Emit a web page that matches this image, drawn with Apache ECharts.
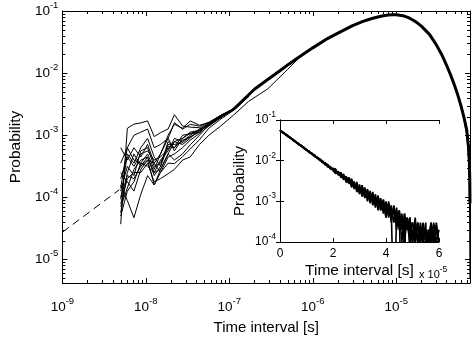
<!DOCTYPE html>
<html><head><meta charset="utf-8">
<script src="https://cdn.jsdelivr.net/npm/echarts@6/dist/echarts.min.js"></script>
<style>html,body{margin:0;padding:0;background:#fff}#c{width:474px;height:340px}</style>
</head><body><div id="c"></div>
<script>
const FONT = '"Liberation Sans", Arial, Helvetica, sans-serif';

// ---- main axes ranges and ticks ----
const mainXMin = 1e-9, mainXMax = 7.65e-5;
const mainYMin = 4.18e-6, mainYMax = 1e-1;
const xMinorTicks = [2e-9,3e-9,4e-9,5e-9,6e-9,7e-9,8e-9,9e-9,
  2e-8,3e-8,4e-8,5e-8,6e-8,7e-8,8e-8,9e-8,
  2e-7,3e-7,4e-7,5e-7,6e-7,7e-7,8e-7,9e-7,
  2e-6,3e-6,4e-6,5e-6,6e-6,7e-6,8e-6,9e-6,
  2e-5,3e-5,4e-5,5e-5,6e-5,7e-5];
const yMinorTicks = [5e-6,6e-6,7e-6,8e-6,9e-6,
  2e-5,3e-5,4e-5,5e-5,6e-5,7e-5,8e-5,9e-5,
  2e-4,3e-4,4e-4,5e-4,6e-4,7e-4,8e-4,9e-4,
  2e-3,3e-3,4e-3,5e-3,6e-3,7e-3,8e-3,9e-3,
  2e-2,3e-2,4e-2,5e-2,6e-2,7e-2,8e-2,9e-2];

// ---- main plot data ----
const dashT = [1e-9, 4.8e-9];
const dashP = [2.75e-5, 1.32e-4];

const headT = [5.0e-9, 6.0e-9, 7.2e-9, 8.7e-9, 1.05e-8, 1.26e-8, 1.5e-8, 1.85e-8, 2.2e-8, 2.75e-8, 3.4e-8, 4.4e-8, 5.7e-8, 7.9e-8, 1.12e-7, 1.7e-7];
const head1 = [3.7e-5, 1.29e-3, 1.51e-3, 1.58e-3, 1.70e-3, 9.5e-4, 1.10e-3, 1.26e-3, 2.14e-3, 1.41e-3, 1.35e-3, 1.32e-3, 1.58e-3, 2.09e-3, 2.63e-3, 4.27e-3];
const head2 = [9.3e-5, 5.0e-4, 3.55e-4, 6.3e-4, 8.9e-4, 4.47e-4, 3.16e-4, 7.9e-4, 6.3e-4, 1.0e-3, 1.05e-3, 1.12e-3, 1.58e-3, 1.91e-3, 2.69e-3, 4.17e-3];
const head3 = [2.5e-4, 1.78e-4, 1.26e-4, 2.82e-4, 3.98e-4, 1.58e-4, 2.82e-4, 5.0e-4, 7.9e-4, 7.1e-4, 8.9e-4, 1.26e-3, 1.41e-3, 2.0e-3, 2.51e-3, 4.37e-3];
const head4 = [6.3e-4, 3.98e-4, 6.3e-4, 4.47e-4, 7.1e-4, 3.55e-4, 5.0e-4, 8.9e-4, 5.6e-4, 8.9e-4, 1.12e-3, 1.2e-3, 1.58e-3, 2.09e-3, 2.63e-3, 4.27e-3];
const head5 = [1.58e-4, 8.9e-5, 4.7e-5, 1.12e-4, 2.24e-4, 1.58e-4, 2.51e-4, 3.55e-4, 3.5e-4, 4.5e-4, 6.0e-4, 8.5e-4, 1.3e-3, 1.82e-3, 2.51e-3, 4.17e-3];
const head6 = [5.6e-5, 2.51e-4, 5.0e-4, 3.16e-4, 4.47e-4, 2.51e-4, 3.98e-4, 5.6e-4, 8.9e-4, 7.9e-4, 1.0e-3, 1.26e-3, 1.48e-3, 1.95e-3, 2.69e-3, 4.27e-3];
const head7 = [1.26e-4, 3.16e-4, 2.24e-4, 5.6e-4, 6.3e-4, 3.16e-4, 3.55e-4, 7.1e-4, 7.1e-4, 7.6e-4, 9.5e-4, 1.12e-3, 1.51e-3, 2.0e-3, 2.57e-3, 4.27e-3];
const head8 = [7.9e-5, 2.0e-4, 2.51e-4, 2.51e-4, 3.55e-4, 1.78e-4, 2.0e-4, 2.4e-4, 2.82e-4, 3.98e-4, 4.47e-4, 7.1e-4, 1.0e-3, 1.41e-3, 2.1e-3, 3.5e-3];
const head9 = [2.0e-4, 4.47e-4, 3.16e-4, 5.0e-4, 5.6e-4, 3.98e-4, 4.47e-4, 6.0e-4, 7.9e-4, 8.9e-4, 1.07e-3, 1.2e-3, 1.55e-3, 2.04e-3, 2.63e-3, 4.27e-3];
const head10 = [7.1e-5, 1.41e-4, 2.82e-4, 3.98e-4, 4.47e-4, 2.24e-4, 3.16e-4, 6.6e-4, 6.3e-4, 8.3e-4, 9.3e-4, 1.17e-3, 1.45e-3, 2.0e-3, 2.63e-3, 4.27e-3];
const head11 = [3.55e-4, 6.3e-4, 3.98e-4, 3.55e-4, 5.0e-4, 2.82e-4, 5.0e-4, 1.0e-3, 1.5e-3, 1.3e-3, 1.7e-3, 1.45e-3, 1.6e-3, 2.0e-3, 2.69e-3, 4.37e-3];
const head12 = [5.0e-5, 1.26e-4, 1.78e-4, 3.55e-4, 3.16e-4, 2.51e-4, 2.82e-4, 5.0e-4, 4.0e-4, 5.0e-4, 7.0e-4, 1.0e-3, 1.48e-3, 1.95e-3, 2.57e-3, 4.27e-3];
const head13 = [1.41e-4, 6.3e-4, 1.0e-3, 1.12e-3, 1.26e-3, 6.3e-4, 7.1e-4, 8.9e-4, 1.6e-3, 1.25e-3, 1.5e-3, 1.4e-3, 1.62e-3, 2.09e-3, 2.69e-3, 4.27e-3];
const head14 = [1.0e-4, 2.24e-4, 2.0e-4, 3.16e-4, 3.98e-4, 3.55e-4, 2.51e-4, 4.47e-4, 5.0e-4, 6.3e-4, 8.3e-4, 1.07e-3, 1.41e-3, 1.91e-3, 2.57e-3, 4.17e-3];
const divergeT = [2.9e-7, 5e-7, 7e-7];
const divergeP = [5.6e-3, 1.15e-2, 1.8e-2];

const mainT = [1.12e-7, 1.5e-7, 2e-7, 3e-7, 4e-7, 5e-7, 7e-7, 1e-6, 1.5e-6, 2e-6, 3e-6, 4e-6, 5e-6, 6e-6, 7e-6, 8e-6, 9e-6, 1e-5, 1.2e-5, 1.4e-5, 1.6e-5, 1.8e-5, 2e-5, 2.5e-5, 3e-5, 3.5e-5, 4e-5, 4.5e-5, 5e-5, 5.5e-5, 6e-5, 6.5e-5, 7e-5, 7.3e-5, 7.5e-5, 7.6e-5, 7.65e-5];
const mainP = [2.6e-3, 3.8e-3, 5.5e-3, 8.2e-3, 1.08e-2, 1.35e-2, 1.85e-2, 2.55e-2, 3.6e-2, 4.4e-2, 5.8e-2, 6.8e-2, 7.5e-2, 8.0e-2, 8.4e-2, 8.6e-2, 8.7e-2, 8.7e-2, 8.4e-2, 7.8e-2, 7.1e-2, 6.4e-2, 5.7e-2, 4.2e-2, 2.9e-2, 2.0e-2, 1.35e-2, 9.2e-3, 6.3e-3, 4.3e-3, 2.9e-3, 1.9e-3, 1.2e-3, 7e-4, 4e-4, 2e-4, 8e-5];
const tailT = [6e-5, 6.5e-5, 7e-5, 7.3e-5, 7.5e-5, 7.6e-5, 7.65e-5];
const tailA = [2.8e-3, 1.8e-3, 1.0e-3, 5e-4, 2e-4, 4e-5, 5e-6];
const tailB = [3.0e-3, 2.0e-3, 1.3e-3, 8e-4, 5e-4, 3e-4, 1.5e-4];

// ---- inset data (time in units of 1e-5 s) ----
const insetXTicks = [0, 2, 4, 6];
const insetT = [0,0.1,0.2,0.3,0.4,0.5,0.6,0.7,0.8,0.9,1.0,1.1,1.2,1.3,1.4,1.5,1.6,1.7,1.8,1.9,2.0,
  2.1,2.2,2.3,2.4,2.5,2.6,2.7,2.8,2.9,3.0,3.1,3.2,3.3,3.4,3.5,3.6,3.7,3.8,3.9,4.0,
  4.1,4.2,4.3,4.4,4.5,4.6,4.7,4.8,4.9,5.0,5.1,5.2,5.3,5.4,5.5,5.6,5.7,5.8,5.9,6.0];
const insetA = [.0570,.0490,.0455,.0395,.0365,.0315,.0292,.0252,.0236,.0201,.0188,.0160,.0152,.0128,.0122,.0103,.0098,.0081,.0079,.0064,.0063,
  .0058,.0046,.0047,.0036,.0038,.0029,.0031,.0022,.0026,.0017,.0021,.0014,.0017,.0011,.0014,.0009,.0012,.0007,.0009,.0005,
  .0008,.0004,.0007,.0003,.0005,.000001,.0004,.0002,.0003,.0001,.0003,.0001,.0002,.0001,.0002,.0001,.0003,.0001,.0002,.0001];
const insetB = [.0555,.0508,.0440,.0410,.0352,.0328,.0282,.0263,.0225,.0212,.0180,.0170,.0144,.0137,.0115,.0110,.0091,.0088,.0072,.0070,.0058,
  .0052,.0051,.0041,.0042,.0033,.0034,.0025,.0027,.0020,.0023,.0016,.0018,.0012,.0015,.0010,.0012,.0008,.0010,.0006,.0008,
  .0005,.0006,.000001,.0005,.0003,.0004,.0002,.0003,.0001,.0003,.0002,.000001,.0002,.0001,.0001,.0002,.000001,.0002,.0001,.0001];
const insetC = [.0562,.0498,.0452,.0398,.0362,.0320,.0291,.0256,.0233,.0205,.0187,.0163,.0150,.0131,.0120,.0105,.0096,.0084,.0077,.0066,.0062,
  .0054,.0048,.0045,.0040,.0036,.0030,.0029,.0024,.0023,.0019,.0019,.0015,.0016,.0012,.0012,.0009,.0010,.0008,.0008,.0006,
  .0007,.0005,.0005,.0004,.0004,.0003,.0003,.0002,.0003,.000001,.0002,.0002,.0001,.0003,.0001,.0001,.0002,.0001,.0003,.0001];
const insetD = [.0548,.0504,.0446,.0405,.0357,.0325,.0286,.0261,.0228,.0209,.0183,.0168,.0147,.0135,.0117,.0108,.0093,.0086,.0074,.0069,.0060,
  .0056,.0050,.0043,.0041,.0034,.0033,.0027,.0026,.0021,.0021,.0017,.0017,.0013,.0014,.0011,.0011,.0009,.0009,.0007,.0007,
  .0006,.0005,.0006,.0003,.0004,.0004,.0002,.0004,.0001,.0002,.0001,.0003,.0001,.0002,.000001,.0002,.0001,.0003,.0001,.0002];
const insetE = [.0575,.0485,.0462,.0390,.0370,.0310,.0296,.0248,.0240,.0198,.0190,.0158,.0155,.0126,.0124,.0101,.0100,.0079,.0081,.0062,.0065,
  .0062,.0044,.0052,.0035,.0041,.0027,.0036,.0020,.0030,.0015,.0025,.0012,.0020,.0009,.0017,.0008,.0014,.0006,.0011,.0004,
  .0010,.0003,.0008,.0002,.0006,.0001,.0005,.000001,.0004,.0001,.0003,.0001,.0002,.0001,.0003,.000001,.0002,.0001,.0001,.0001];
const insetF = [.0545,.0512,.0438,.0414,.0350,.0331,.0280,.0266,.0222,.0215,.0178,.0173,.0142,.0140,.0113,.0112,.0089,.0090,.0070,.0072,.0057,
  .0048,.0055,.0038,.0047,.0029,.0039,.0022,.0031,.0017,.0026,.0013,.0022,.0010,.0018,.0008,.0015,.0006,.0012,.0005,.0010,
  .0004,.0008,.0003,.0007,.0002,.0005,.0001,.0004,.0002,.0003,.0001,.0003,.0001,.0002,.0002,.0001,.0003,.0001,.0002,.0001];
const insetG = [.0566,.0495,.0450,.0400,.0361,.0318,.0293,.0255,.0234,.0204,.0186,.0165,.0149,.0132,.0119,.0106,.0095,.0085,.0076,.0067,.0061,
  .0057,.0047,.0049,.0034,.0040,.0028,.0034,.0021,.0028,.0016,.0024,.0013,.0019,.0010,.0016,.0007,.0013,.0006,.0011,.0004,
  .0009,.0004,.0007,.0003,.0006,.0002,.0005,.0002,.0004,.0001,.0004,.0001,.0003,.0001,.0002,.0001,.0002,.0001,.0002,.0001];

// ---- helpers ----
function zip(t, p) { return t.map((v, i) => [v, p[i]]); }
function powLabel(v) {
  const e = Math.log10(v), r = Math.round(e);
  if (Math.abs(e - r) > 1e-6) return '';
  return '{b|10}{e|' + r + '}';
}
const mainRich = {
  b: { fontSize: 13.5, fontFamily: FONT, color: '#000', lineHeight: 22, verticalAlign: 'middle' },
  e: { fontSize: 9.5, fontFamily: FONT, color: '#000', lineHeight: 11, verticalAlign: 'top' }
};
const insetRich = {
  b: { fontSize: 12, fontFamily: FONT, color: '#000', lineHeight: 20, verticalAlign: 'middle' },
  e: { fontSize: 8.5, fontFamily: FONT, color: '#000', lineHeight: 9, verticalAlign: 'top' }
};
const axLine = { show: true, lineStyle: { color: '#000', width: 1 } };

function lineSeries(data, xi, yi, width, extra) {
  return Object.assign({
    type: 'line', xAxisIndex: xi, yAxisIndex: yi, data: data, showSymbol: false, symbol: 'none',
    silent: true, animation: false, clip: true,
    lineStyle: { color: '#000', width: width }
  }, extra || {});
}

const heads = [head1, head2, head3, head4, head5, head6, head7, head9, head10, head11, head12, head13, head14];
const series = [];
series.push(lineSeries(zip(dashT, dashP), 0, 0, 1, { lineStyle: { color: '#000', width: 1, type: [8, 5] } }));
heads.forEach(h => series.push(lineSeries(zip(headT, h), 0, 0, 1)));
series.push(lineSeries(zip(headT, head8).concat(zip(divergeT, divergeP)), 0, 0, 1));
series.push(lineSeries(zip(mainT, mainP), 0, 0, 3));
series.push(lineSeries(zip(tailT, tailA), 0, 0, 1.2));
series.push(lineSeries(zip(tailT, tailB), 0, 0, 1.2));
[insetA, insetB, insetC, insetD, insetE, insetF, insetG].forEach(s => series.push(lineSeries(zip(insetT, s), 2, 2, 1.6)));

// minor ticks of the main log axes (mirrored on both sides)
function crisp(v) { return Math.round(v) + 0.5; }
series.push({
  type: 'custom', xAxisIndex: 0, yAxisIndex: 0, silent: true, animation: false, clip: false,
  data: xMinorTicks.map(v => [v, mainYMin]),
  renderItem: (params, api) => {
    const v = api.value(0);
    const b = api.coord([v, mainYMin]), t = api.coord([v, mainYMax]);
    const x = crisp(b[0]);
    return { type: 'group', children: [
      { type: 'line', shape: { x1: x, y1: b[1], x2: x, y2: b[1] - 3 }, style: { stroke: '#000', lineWidth: 1 } },
      { type: 'line', shape: { x1: x, y1: t[1], x2: x, y2: t[1] + 3 }, style: { stroke: '#000', lineWidth: 1 } }
    ] };
  }
});
series.push({
  type: 'custom', xAxisIndex: 0, yAxisIndex: 0, silent: true, animation: false, clip: false,
  data: yMinorTicks.map(v => [mainXMin, v]),
  renderItem: (params, api) => {
    const v = api.value(1);
    const l = api.coord([mainXMin, v]), r = api.coord([mainXMax, v]);
    const y = crisp(l[1]);
    return { type: 'group', children: [
      { type: 'line', shape: { x1: l[0], y1: y, x2: l[0] + 3, y2: y }, style: { stroke: '#000', lineWidth: 1 } },
      { type: 'line', shape: { x1: r[0], y1: y, x2: r[0] - 3, y2: y }, style: { stroke: '#000', lineWidth: 1 } }
    ] };
  }
});

const majorTick = { show: true, inside: true, length: 5, lineStyle: { color: '#000', width: 1 } };
const insetTick = { show: true, inside: true, length: 4, lineStyle: { color: '#000', width: 1 } };

const option = {
  backgroundColor: '#fff',
  animation: false,
  grid: [
    { left: 47, top: 10, width: 423, height: 289, containLabel: false },
    { left: 280, top: 120, width: 159, height: 122, containLabel: false }
  ],
  xAxis: [
    { type: 'log', logBase: 10, gridIndex: 0, position: 'bottom', min: mainXMin, max: mainXMax,
      axisLine: axLine, axisTick: majorTick, splitLine: { show: false }, minorTick: { show: false },
      axisLabel: { formatter: powLabel, rich: mainRich, margin: 13, hideOverlap: false },
      name: 'Time interval [s]', nameLocation: 'middle', nameGap: 37,
      nameTextStyle: { fontSize: 15, fontFamily: FONT, color: '#000' } },
    { type: 'log', logBase: 10, gridIndex: 0, position: 'top', min: mainXMin, max: mainXMax,
      axisLine: axLine, axisTick: majorTick, splitLine: { show: false }, axisLabel: { show: false } },
    { type: 'value', gridIndex: 1, position: 'bottom', min: 0, max: 6, interval: 2,
      axisLine: axLine, axisTick: insetTick, splitLine: { show: false },
      axisLabel: { fontSize: 12, fontFamily: FONT, color: '#000', margin: 6 },
      name: 'Time interval [s]', nameLocation: 'middle', nameGap: 21,
      nameTextStyle: { fontSize: 15.5, fontFamily: FONT, color: '#000' } },
    { type: 'value', gridIndex: 1, position: 'top', min: 0, max: 6, interval: 2,
      axisLine: axLine, axisTick: insetTick, splitLine: { show: false }, axisLabel: { show: false } }
  ],
  yAxis: [
    { type: 'log', logBase: 10, gridIndex: 0, position: 'left', min: mainYMin, max: mainYMax,
      axisLine: axLine, axisTick: majorTick, splitLine: { show: false }, minorTick: { show: false },
      axisLabel: { formatter: powLabel, rich: mainRich, margin: 4, hideOverlap: false },
      name: 'Probability', nameLocation: 'middle', nameGap: 36, nameRotate: 90,
      nameTextStyle: { fontSize: 15.5, fontFamily: FONT, color: '#000' } },
    { type: 'log', logBase: 10, gridIndex: 0, position: 'right', min: mainYMin, max: mainYMax,
      axisLine: axLine, axisTick: majorTick, splitLine: { show: false }, axisLabel: { show: false } },
    { type: 'log', logBase: 10, gridIndex: 1, position: 'left', min: 1e-4, max: 1e-1,
      axisLine: axLine, axisTick: insetTick, splitLine: { show: false },
      axisLabel: { formatter: powLabel, rich: insetRich, margin: 4, hideOverlap: false },
      name: 'Probability', nameLocation: 'middle', nameGap: 33, nameRotate: 90,
      nameTextStyle: { fontSize: 15, fontFamily: FONT, color: '#000' } },
    { type: 'log', logBase: 10, gridIndex: 1, position: 'right', min: 1e-4, max: 1e-1,
      axisLine: axLine, axisTick: insetTick, splitLine: { show: false }, axisLabel: { show: false } }
  ],
  graphic: [
    { type: 'text', left: 419, top: 265, silent: true,
      style: { text: '{m|x 10}{e|-5}', rich: {
        m: { fontSize: 11, fontFamily: FONT, fill: '#000', color: '#000', lineHeight: 20, verticalAlign: 'middle' },
        e: { fontSize: 8.5, fontFamily: FONT, fill: '#000', color: '#000', lineHeight: 8, verticalAlign: 'top' } } } }
  ],
  series: series
};
const chart = echarts.init(document.getElementById('c'), null, { renderer: 'canvas' });
chart.setOption(option);
</script></body></html>
